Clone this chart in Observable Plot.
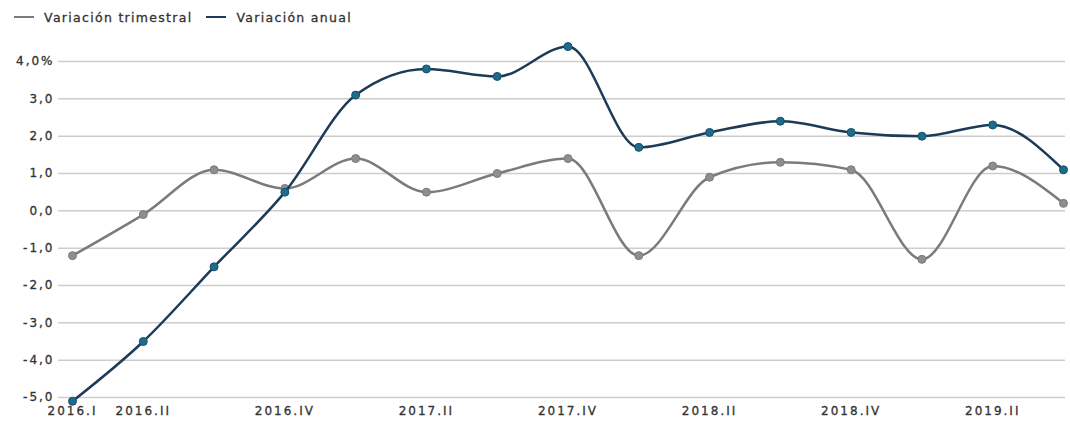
<!DOCTYPE html>
<html>
<head>
<meta charset="utf-8">
<script src="https://cdn.jsdelivr.net/npm/d3@7"></script>
<script src="https://cdn.jsdelivr.net/npm/@observablehq/plot@0.6"></script>
<style>
  html, body { margin: 0; padding: 0; background: #fff; }
  body { width: 1070px; height: 427px; overflow: hidden; font-family: "DejaVu Sans", sans-serif; }
  .legend { height: 34px; display: flex; align-items: center; padding-left: 14px; font-size: 12.5px; letter-spacing: 1.3px; color: #333; -webkit-text-stroke: 0.3px #333; }
  .legend .item { display: flex; align-items: center; margin-right: 14px; }
  .legend .sw { width: 20px; height: 2px; margin-right: 10px; }
  svg { display: block; }
  #chart svg text { stroke: #333; stroke-width: 0.3px; }
</style>
</head>
<body>
<div class="legend" id="legend"></div>
<div id="chart"></div>
<script>
const quarters = ["2016.I","2016.II","2016.III","2016.IV","2017.I","2017.II","2017.III","2017.IV","2018.I","2018.II","2018.III","2018.IV","2019.I","2019.II","2019.III"];
const trimestral = [-1.2, -0.1, 1.1, 0.6, 1.4, 0.5, 1.0, 1.4, -1.2, 0.9, 1.3, 1.1, -1.3, 1.2, 0.2];
const anual = [-5.1, -3.5, -1.5, 0.5, 3.1, 3.8, 3.6, 4.4, 1.7, 2.1, 2.4, 2.1, 2.0, 2.3, 1.1];
const xTicks = ["2016.I","2016.II","2016.IV","2017.II","2017.IV","2018.II","2018.IV","2019.II"];
const yTicks = [-5, -4, -3, -2, -1, 0, 1, 2, 3, 4];
const seriesNames = ["Variación trimestral", "Variación anual"];
const lineColors = ["#7b7b7b", "#1d3a58"];
const dotColors = ["#8e8e8e", "#1c6c8a"];

const trimData = quarters.map((q, i) => ({q, v: trimestral[i]}));
const anualData = quarters.map((q, i) => ({q, v: anual[i]}));

const legend = document.getElementById("legend");
seriesNames.forEach((n, i) => {
  const it = document.createElement("div");
  it.className = "item";
  it.innerHTML = `<span class="sw" style="background:${lineColors[i]}"></span><span>${n}</span>`;
  legend.appendChild(it);
});

const fmt = d => (d === 4 ? "4,0%" : d.toFixed(1).replace(".", ","));

const chart = Plot.plot({
  width: 1070,
  height: 393,
  marginLeft: 72,
  marginRight: 7,
  marginTop: 27,
  marginBottom: 30,
  style: { fontFamily: "'DejaVu Sans', sans-serif", fontSize: "12px", color: "#333", letterSpacing: "2px" },
  x: { type: "point", domain: quarters, padding: 0, round: false, label: null },
  y: { domain: [-5, 4], label: null },
  marks: [
    Plot.ruleY(yTicks, { stroke: "#cdcdcd", strokeWidth: 1.5, insetLeft: -14, insetRight: -2 }),
    Plot.axisY(yTicks, { tickSize: 0, tickPadding: 18, tickFormat: fmt, fill: "#333", fontSize: 12, label: null }),
    Plot.axisX(xTicks, { tickSize: 0, tickPadding: 9, fill: "#333", fontSize: 12, label: null }),
    Plot.line(trimData, { x: "q", y: "v", stroke: lineColors[0], strokeWidth: 2.5, curve: "monotone-x" }),
    Plot.dot(trimData, { x: "q", y: "v", r: 4, fill: dotColors[0], stroke: "#7a7a7a", strokeWidth: 1 }),
    Plot.line(anualData, { x: "q", y: "v", stroke: lineColors[1], strokeWidth: 2.5, curve: "monotone-x" }),
    Plot.dot(anualData, { x: "q", y: "v", r: 4, fill: dotColors[1], stroke: "#17506a", strokeWidth: 1 })
  ]
});
document.getElementById("chart").appendChild(chart);
</script>
</body>
</html>
